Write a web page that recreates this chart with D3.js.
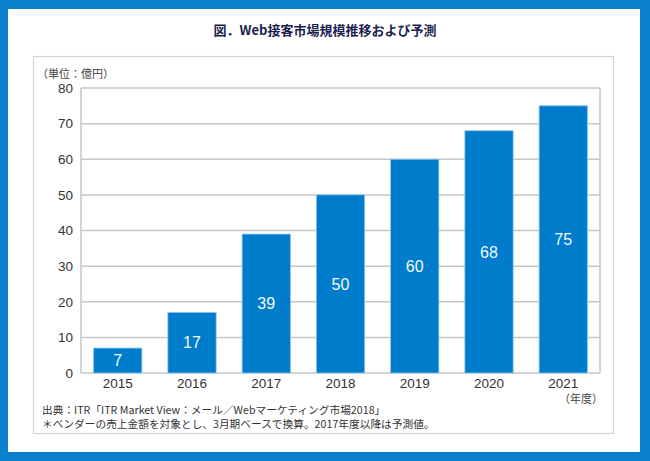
<!DOCTYPE html>
<html><head><meta charset="utf-8">
<script src="https://cdn.jsdelivr.net/npm/d3@7/dist/d3.min.js"></script>
<style>html,body{margin:0;padding:0;background:#fff;}svg{display:block;}</style>
</head><body>
<script>
const categories = ["2015","2016","2017","2018","2019","2020","2021"];
const values = [7,17,39,50,60,68,75];
const yTicks = [0,10,20,30,40,50,60,70,80];
const title = "図．Web接客市場規模推移および予測";
const unitLabel = "（単位：億円）";
const xUnitLabel = "（年度）";
const notes = ["出典：ITR「ITR Market View：メール／Webマーケティング市場2018」",
               "＊ベンダーの売上金額を対象とし、3月期ベースで換算。2017年度以降は予測値。"];

const W=650,H=461;
const blue="#0a7fcc";
const jp="'Noto Sans CJK JP','Noto Sans',sans-serif";
const num="'Liberation Sans',Arial,sans-serif";
const svg=d3.select("body").append("svg").attr("width",W).attr("height",H);

// outer frame
svg.append("rect").attr("width",W).attr("height",H).attr("fill",blue);
svg.append("rect").attr("x",8).attr("y",9).attr("width",632).attr("height",443).attr("fill","#fff");
// inner box
svg.append("rect").attr("x",33.5).attr("y",56.5).attr("width",580).attr("height",377)
  .attr("fill","#fff").attr("stroke","#d4d4d4").attr("stroke-width",1.2);

svg.append("text").attr("x",325).attr("y",35).attr("text-anchor","middle")
  .attr("font-family",jp).attr("font-size",13).attr("font-weight","bold").attr("fill","#1c1f4f").text(title);

const x=d3.scaleBand().domain(categories).range([81,600]).paddingInner(0.35).paddingOuter(0.17);
const y=d3.scaleLinear().domain([0,80]).range([373,88]);

const g=svg.append("g");
// gridlines
g.selectAll("line.grid").data(yTicks).join("line")
  .attr("x1",81).attr("x2",600).attr("y1",d=>y(d)).attr("y2",d=>y(d))
  .attr("stroke","#c6c6c6").attr("stroke-width",1.5);
// frame verticals
[81,600].forEach(xx=>g.append("line").attr("x1",xx).attr("x2",xx).attr("y1",y(80)).attr("y2",y(0))
  .attr("stroke","#c6c6c6").attr("stroke-width",1.5));

// y axis labels
const ya=svg.append("g").attr("transform","translate(81,0)")
  .call(d3.axisLeft(y).tickValues(yTicks).tickSize(0).tickPadding(8));
ya.select(".domain").remove();
ya.selectAll("text").attr("font-family",num).attr("font-size",13.5).attr("fill","#333");

// bars
svg.selectAll("rect.bar").data(values).join("rect").attr("class","bar")
  .attr("x",(d,i)=>x(categories[i])).attr("width",x.bandwidth())
  .attr("y",d=>y(d)).attr("height",d=>y(0)-y(d))
  .attr("fill","#007ccc").attr("stroke","#8cc4ea").attr("stroke-width",0.8);

svg.selectAll("text.val").data(values).join("text")
  .attr("x",(d,i)=>x(categories[i])+x.bandwidth()/2)
  .attr("y",d=>(y(d)+y(0))/2).attr("dy","0.36em").attr("text-anchor","middle")
  .attr("font-family",num).attr("font-size",16).attr("fill","#f4f9fd").text(d=>d);

// x axis
const xa=svg.append("g").attr("transform","translate(0,373)")
  .call(d3.axisBottom(x).tickSize(0).tickPadding(5));
xa.select(".domain").remove();
xa.selectAll("text").attr("font-family",num).attr("font-size",13.5).attr("fill","#333");

svg.append("text").attr("x",37).attr("y",78).attr("font-family",jp).attr("font-size",11).attr("fill","#444").text(unitLabel);
svg.append("text").attr("x",603).attr("y",403).attr("text-anchor","end").attr("font-family",jp).attr("font-size",11).attr("fill","#444").text(xUnitLabel);
notes.forEach((t,i)=>svg.append("text").attr("x",42).attr("y",414+i*14)
  .attr("font-family",jp).attr("font-size",10.7).attr("fill","#333").text(t));
</script>
</body></html>
